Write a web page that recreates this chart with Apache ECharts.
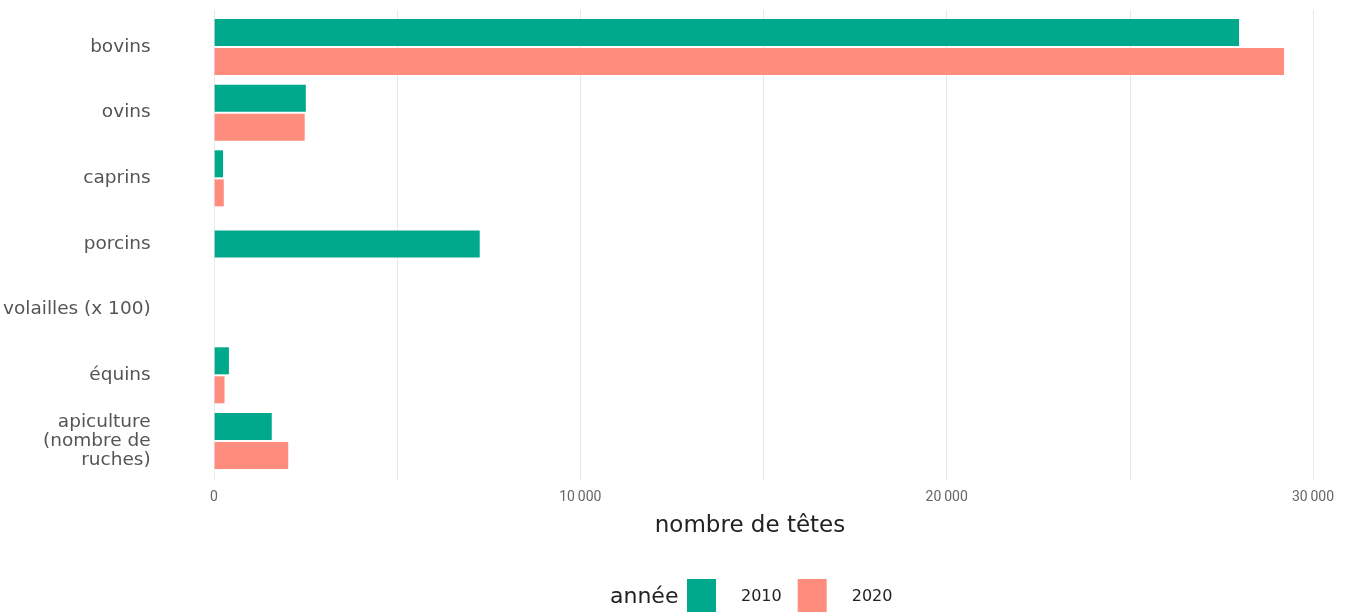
<!DOCTYPE html>
<html>
<head>
<meta charset="utf-8">
<script src="https://cdn.jsdelivr.net/npm/echarts@6/dist/echarts.min.js"></script>
<style>html,body{margin:0;padding:0;background:#fff;}#c{width:1364px;height:612px;}</style>
</head>
<body>
<div id="c"></div>
<script>
const categories = ['bovins', 'ovins', 'caprins', 'porcins', 'volailles (x 100)', 'équins', 'apiculture\n(nombre de\nruches)'];
const values2010 = [27980, 2490, 230, 7240, null, 390, 1560];
const values2020 = [29210, 2460, 250, null, null, 270, 2010];
const seriesNames = ['2010', '2020'];
const xTicks = [0, 10000, 20000, 30000];

// bars whose pair is missing are drawn centred on their category (dodge, preserve single)
const paired2010 = values2010.map((v, i) => (values2020[i] == null ? null : v));
const single2010 = values2010.map((v, i) => (values2020[i] == null ? v : null));
const paired2020 = values2020.map((v, i) => (values2010[i] == null ? null : v));
const single2020 = values2020.map((v, i) => (values2010[i] == null ? v : null));

const FONT = '"DejaVu Sans"';
const GREEN = '#00A88C', SALMON = '#FF8D7E';
const fmt = v => xTicks.includes(v) ? (v === 0 ? '0' : String(v).replace(/\B(?=(\d{3})+(?!\d))/g, '\u2009')) : '';
const catAxis = (extra) => Object.assign({
  type: 'category', gridIndex: 0, data: categories, inverse: true,
  axisLine: {show: false}, axisTick: {show: false}, splitLine: {show: false}
}, extra);

const chart = echarts.init(document.getElementById('c'), null, {renderer: 'canvas'});
chart.setOption({
  animation: false,
  backgroundColor: '#ffffff',
  textStyle: {fontFamily: FONT},
  grid: [
    {left: 214, right: 51, top: 14.2, bottom: 138.2, containLabel: false},
    {left: 214, right: 51, top: 10, bottom: 132, containLabel: false}
  ],
  xAxis: [
    {
      type: 'value', gridIndex: 0, min: 0, max: 30000, interval: 5000,
      axisLine: {show: false}, axisTick: {show: false}, splitLine: {show: false},
      axisLabel: {show: false}
    },
    {
      type: 'value', gridIndex: 1, min: 0, max: 30000, interval: 5000,
      axisLine: {show: false}, axisTick: {show: false},
      splitLine: {show: true, lineStyle: {color: '#e8e8e8', width: 1}},
      axisLabel: {margin: 10, color: '#666', fontSize: 14, fontFamily: 'Roboto', formatter: fmt}
    }
  ],
  yAxis: [
    catAxis({axisLabel: {margin: 64, color: '#555', fontSize: 18.5, fontFamily: FONT, lineHeight: 19, align: 'right'}}),
    {type: 'value', gridIndex: 1, min: 0, max: 1, show: false},
    catAxis({axisLabel: {show: false}})
  ],
  legend: {
    data: seriesNames, left: 682, top: 574, itemWidth: 29, itemHeight: 36, itemGap: 16,
    icon: 'rect',
    textStyle: {fontSize: 16, color: '#222', fontFamily: FONT, padding: [0, 0, 0, 20]}
  },
  graphic: [
    {type: 'text', x: 610, y: 597, style: {text: 'année', fontSize: 22, fill: '#222', fontFamily: FONT, textVerticalAlign: 'middle'}},
    {type: 'text', x: 750, y: 526, style: {text: 'nombre de têtes', fontSize: 23, fill: '#222', fontFamily: FONT, textAlign: 'center', textVerticalAlign: 'middle'}}
  ],
  series: [
    {name: '2010', type: 'bar', xAxisIndex: 0, yAxisIndex: 0, data: paired2010, barWidth: 27, barGap: '7.4%', itemStyle: {color: GREEN}},
    {name: '2020', type: 'bar', xAxisIndex: 0, yAxisIndex: 0, data: paired2020, barWidth: 27, barGap: '7.4%', itemStyle: {color: SALMON}},
    {name: '2010', type: 'bar', xAxisIndex: 0, yAxisIndex: 2, data: single2010, barWidth: 27, stack: 'single', itemStyle: {color: GREEN}},
    {name: '2020', type: 'bar', xAxisIndex: 0, yAxisIndex: 2, data: single2020, barWidth: 27, stack: 'single', itemStyle: {color: SALMON}}
  ]
});
</script>
</body>
</html>
